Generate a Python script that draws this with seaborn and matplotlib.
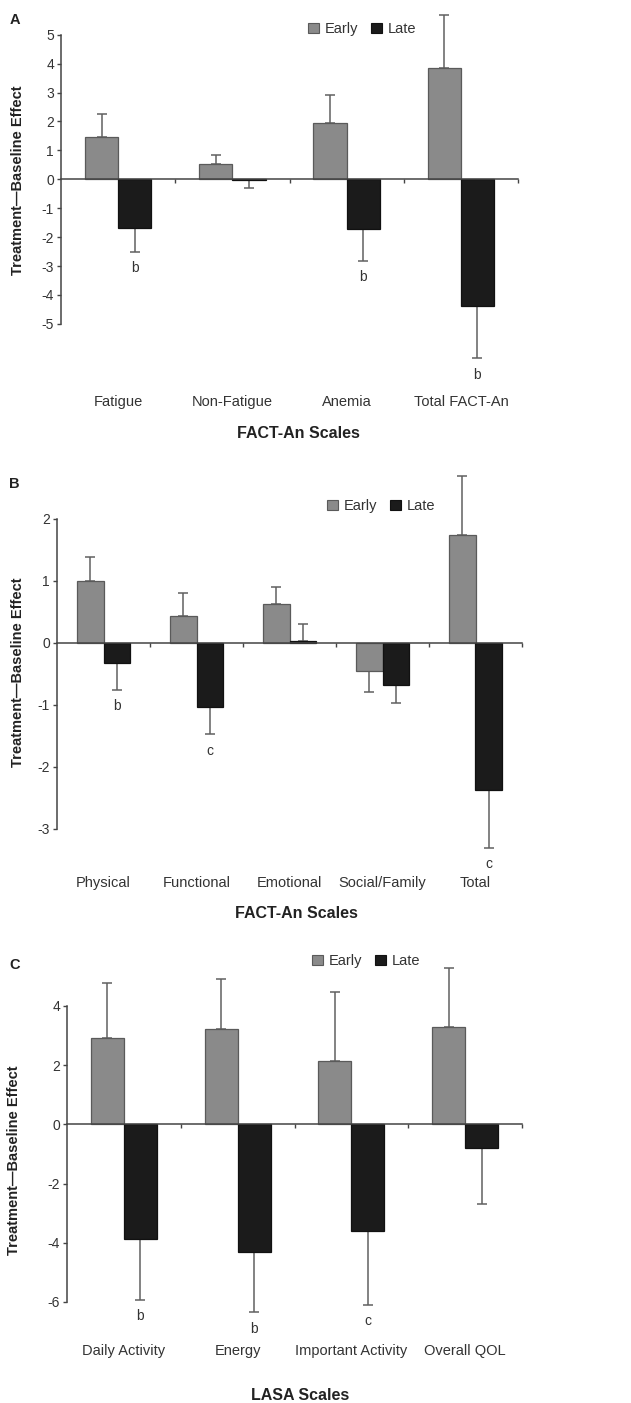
import matplotlib
matplotlib.use("Agg")
import matplotlib.pyplot as plt
import matplotlib.patches as mpatches
import seaborn as sns
import pandas as pd

sns.set_style("white")
plt.rcParams["font.family"] = ["Liberation Sans", "DejaVu Sans"]

# Panel A - FACT-An scales
a_scales = ["Fatigue", "Non-Fatigue", "Anemia", "Total FACT-An"]
a_early = [1.48, 0.53, 1.94, 3.86]
a_early_err = [2.26, 0.84, 2.91, 5.70]
a_late = [-1.70, -0.03, -1.73, -4.38]
a_late_err = [-2.50, -0.31, -2.82, -6.19]
a_marks = ["b", "", "b", "b"]

# Panel B - FACT-An subscales
b_scales = ["Physical", "Functional", "Emotional", "Social/Family", "Total"]
b_early = [1.00, 0.44, 0.63, -0.45, 1.74]
b_early_err = [1.39, 0.80, 0.90, -0.79, 2.69]
b_late = [-0.33, -1.03, 0.03, -0.67, -2.37]
b_late_err = [-0.75, -1.47, 0.31, -0.97, -3.30]
b_marks = ["b", "c", "", "", "c"]

# Panel C - LASA scales
c_scales = ["Daily Activity", "Energy", "Important Activity", "Overall QOL"]
c_early = [2.91, 3.21, 2.14, 3.29]
c_early_err = [4.76, 4.91, 4.48, 5.29]
c_late = [-3.88, -4.32, -3.60, -0.81]
c_late_err = [-5.93, -6.35, -6.09, -2.69]
c_marks = ["b", "b", "c", ""]

W, H = 631, 1403
fig = plt.figure(figsize=(W / 100, H / 100), dpi=100)

colors = {"Early": "#8a8a8a", "Late": "#1b1b1b"}
edges = {"Early": "#5a5a5a", "Late": "#111111"}


def px_axes(x0, x1, zero, scale, ylim):
    top = zero - ylim[1] * scale
    bottom = zero - ylim[0] * scale
    return fig.add_axes([x0 / W, 1 - bottom / H, (x1 - x0) / W, (bottom - top) / H])


def panel(ax, scales, early, early_err, late, late_err, marks, ylim, yticks,
          letter, letter_xy, legend_xy, label_y, xlabel, xlabel_xy, ylabel_xy):
    df = pd.DataFrame({
        "scale": scales * 2,
        "time": ["Early"] * len(scales) + ["Late"] * len(scales),
        "effect": early + late,
    })
    sns.barplot(data=df, x="scale", y="effect", hue="time", palette=colors,
                width=0.58, errorbar=None, ax=ax, legend=False, linewidth=0.9)

    n = len(scales)
    ax.set_xlim(-0.5, n - 0.5)
    ax.set_ylim(*ylim)

    for cont, name, vals, ends in [(ax.containers[0], "Early", early, early_err),
                                   (ax.containers[1], "Late", late, late_err)]:
        xs = []
        for p in cont.patches:
            p.set_edgecolor(edges[name])
            p.set_zorder(2)
            xs.append(p.get_x() + p.get_width() / 2)
        lo = [v - e if e < v else 0 for v, e in zip(vals, ends)]
        hi = [e - v if e > v else 0 for v, e in zip(vals, ends)]
        ax.errorbar(xs, vals, yerr=[lo, hi], fmt="none", ecolor="#606060",
                    elinewidth=1.1, capsize=3.5, capthick=1.1, zorder=1)
        if name == "Late":
            for x, e, m in zip(xs, ends, marks):
                if m:
                    ax.annotate(m, (x, e), xytext=(0, -12), textcoords="offset points",
                                ha="center", va="center", fontsize=10, color="#333333")

    ax.set_yticks(yticks)
    ax.set_yticklabels([str(t) for t in yticks], fontsize=10, color="#333333")
    ax.tick_params(axis="y", direction="out", length=3, width=1, color="#444444", pad=2, left=True)

    # zero line acts as x axis
    for s in ["top", "right"]:
        ax.spines[s].set_visible(False)
    ax.spines["bottom"].set_position(("data", 0))
    ax.spines["bottom"].set_color("#444444")
    ax.spines["bottom"].set_linewidth(1.1)
    ax.spines["bottom"].set_zorder(3)
    ax.spines["left"].set_color("#444444")
    ax.spines["left"].set_linewidth(1.1)
    ax.spines["left"].set_bounds(yticks[0], yticks[-1])
    ax.set_xticks([i + 0.5 for i in range(n)])
    ax.set_xticklabels([])
    ax.tick_params(axis="x", direction="out", length=3, width=1, color="#444444", bottom=True)
    ax.set_xlabel("")
    ax.set_ylabel("")

    # category names below the plot
    for i, s in enumerate(scales):
        xd = ax.transData.transform((i, 0))[0]
        fig.text(xd / fig.bbox.width, 1 - label_y / H, s, ha="center", va="center",
                 fontsize=10.5, color="#333333")

    fig.text(xlabel_xy[0] / W, 1 - xlabel_xy[1] / H, xlabel, ha="center", va="center",
             fontsize=11.5, fontweight="bold", color="#222222")
    fig.text(ylabel_xy[0] / W, 1 - ylabel_xy[1] / H, "Treatment\u2014Baseline Effect",
             rotation=90, ha="center", va="center", fontsize=10.5, fontweight="bold",
             color="#222222")
    fig.text(letter_xy[0] / W, 1 - letter_xy[1] / H, letter, ha="center", va="center",
             fontsize=10.5, fontweight="bold", color="#222222")

    handles = [mpatches.Patch(facecolor=colors[k], edgecolor=edges[k], linewidth=0.8)
               for k in ["Early", "Late"]]
    fig.legend(handles, ["Early", "Late"], loc="center",
               bbox_to_anchor=(legend_xy[0] / W, 1 - legend_xy[1] / H),
               ncol=2, frameon=False, fontsize=10.5, handlelength=0.75, handleheight=0.75,
               handletextpad=0.4, columnspacing=0.9, labelcolor="#333333")


axA = px_axes(61, 518, 179.3, 28.9, (-7.3, 6.0))
axB = px_axes(57, 522, 643, 62, (-3.7, 2.9))
axC = px_axes(67, 522, 1124.3, 29.6, (-7.2, 5.6))

panel(axA, a_scales, a_early, a_early_err, a_late, a_late_err, a_marks, (-7.3, 6.0),
      [-5, -4, -3, -2, -1, 0, 1, 2, 3, 4, 5], "A", (15, 20), (362, 29), 402,
      "FACT-An Scales", (298, 433), (18, 180))
panel(axB, b_scales, b_early, b_early_err, b_late, b_late_err, b_marks, (-3.7, 2.9),
      [-3, -2, -1, 0, 1, 2], "B", (14, 484), (381, 506), 883,
      "FACT-An Scales", (296, 913), (18, 672))
panel(axC, c_scales, c_early, c_early_err, c_late, c_late_err, c_marks, (-7.2, 5.6),
      [-6, -4, -2, 0, 2, 4], "C", (15, 965), (366, 961), 1351,
      "LASA Scales", (300, 1395), (14, 1160))

fig.savefig("out.png", dpi=100)
